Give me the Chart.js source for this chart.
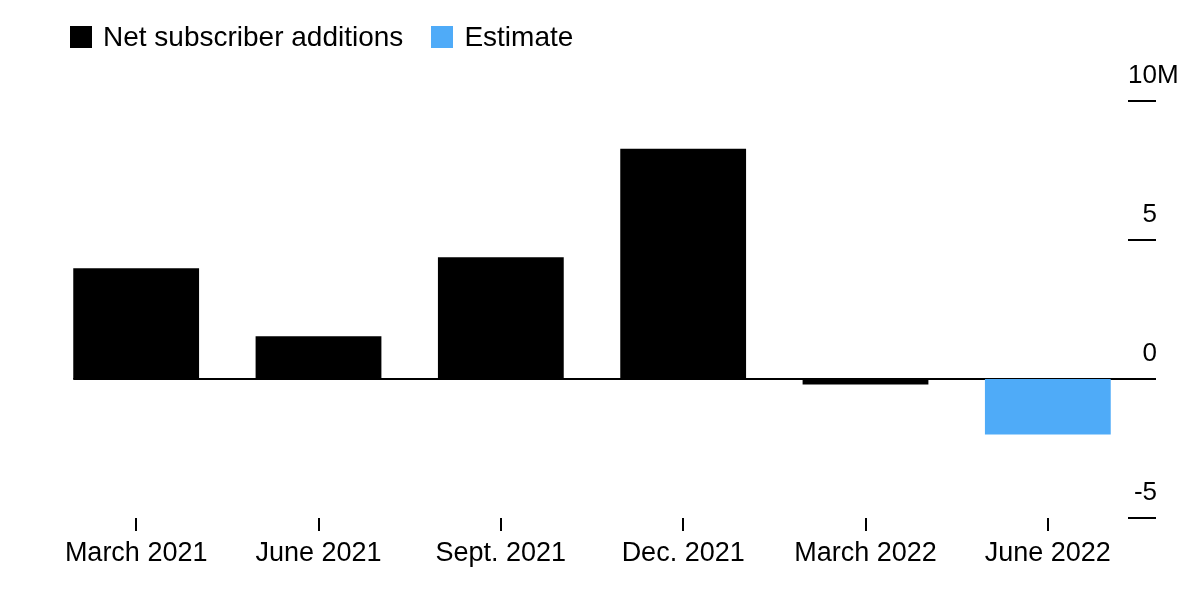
<!DOCTYPE html>
<html>
<head>
<meta charset="utf-8">
<script src="https://cdn.jsdelivr.net/npm/chart.js@4"></script>
<style>
  html, body { margin: 0; padding: 0; background: #fff; }
  #wrap { position: relative; width: 1200px; height: 595px; font-family: "Liberation Sans", Arial, sans-serif; }
  #legend { position: absolute; left: 70px; top: 21px; display: flex; align-items: center; font-size: 28px; color: #000; }
  #legend span.box { display: inline-block; width: 22px; height: 22px; margin-right: 11px; }
  #legend span.item { display: flex; align-items: center; margin-right: 28px; }
</style>
</head>
<body>
<div id="wrap">
  <div id="legend">
    <span class="item"><span class="box" style="background:#000"></span>Net subscriber additions</span>
    <span class="item"><span class="box" style="background:#4fabf8"></span>Estimate</span>
  </div>
  <canvas id="chart" width="1200" height="595"></canvas>
</div>
<script>
const quarters = ['March 2021', 'June 2021', 'Sept. 2021', 'Dec. 2021', 'March 2022', 'June 2022'];
// millions of subscribers
const netAdds = [3.98, 1.54, 4.38, 8.28, -0.2, null];
const estimate = [null, null, null, null, null, -2.0];
const yTicks = [-5, 0, 5, 10];

const axisDraw = {
  id: 'axisDraw',
  beforeDatasetsDraw(chart) {
    const ctx = chart.ctx;
    const y = chart.scales.y;
    const area = chart.chartArea;
    const first = chart.getDatasetMeta(0).data[0];
    const y0 = y.getPixelForValue(0);
    ctx.save();
    ctx.strokeStyle = '#000';
    ctx.lineWidth = 2;
    ctx.beginPath();
    ctx.moveTo(first.x - first.width / 2, y0);
    ctx.lineTo(area.right + 17, y0);
    ctx.stroke();
    ctx.restore();
  },
  afterDraw(chart) {
    const ctx = chart.ctx;
    const y = chart.scales.y;
    const area = chart.chartArea;
    ctx.save();
    ctx.fillStyle = '#000';
    ctx.strokeStyle = '#000';
    ctx.lineWidth = 2;
    ctx.font = '26px "Liberation Sans", Arial, sans-serif';
    ctx.textBaseline = 'alphabetic';
    yTicks.forEach(v => {
      const py = y.getPixelForValue(v);
      if (v !== 0) {
        ctx.beginPath();
        ctx.moveTo(area.right - 11, py);
        ctx.lineTo(area.right + 17, py);
        ctx.stroke();
      }
      ctx.textAlign = 'right';
      ctx.fillText(String(v), area.right + 18, py - 18);
      if (v === 10) {
        ctx.textAlign = 'left';
        ctx.fillText('M', area.right + 18, py - 18);
      }
    });
    ctx.restore();
  }
};

new Chart(document.getElementById('chart'), {
  type: 'bar',
  data: {
    labels: quarters,
    datasets: [
      { label: 'Net subscriber additions', data: netAdds, backgroundColor: '#000' },
      { label: 'Estimate', data: estimate, backgroundColor: '#4fabf8' }
    ]
  },
  options: {
    responsive: false,
    animation: false,
    layout: { padding: { left: 45, right: 61, top: 101, bottom: 0 } },
    datasets: { bar: { categoryPercentage: 1, barPercentage: 0.69 } },
    scales: {
      x: {
        stacked: true,
        border: { display: false },
        grid: { offset: false, drawOnChartArea: false, drawTicks: true, tickLength: 13, tickColor: '#000', lineWidth: 2 },
        ticks: { padding: 6, color: '#000', font: { family: '"Liberation Sans", Arial, sans-serif', size: 27 }, maxRotation: 0 },
        afterFit(s) { s.height = 77; }
      },
      y: {
        display: false,
        stacked: true,
        min: -5,
        max: 10,
        ticks: { stepSize: 5 }
      }
    },
    plugins: { legend: { display: false }, tooltip: { enabled: false } }
  },
  plugins: [axisDraw]
});
</script>
</body>
</html>
